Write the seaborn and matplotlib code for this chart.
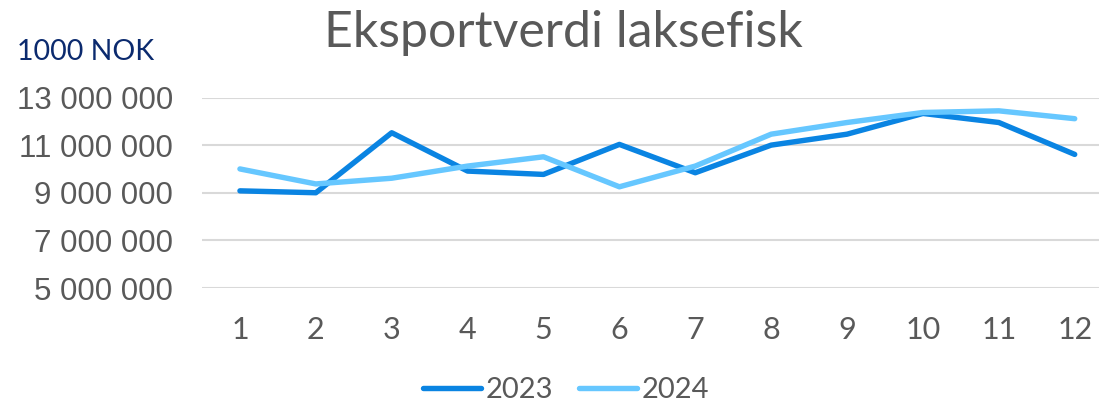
import pandas as pd
import matplotlib.pyplot as plt
import seaborn as sns

months = list(range(1, 13))
verdi_2023 = [9.08, 9.00, 11.52, 9.91, 9.77, 11.03, 9.84, 11.00, 11.46, 12.33, 11.95, 10.61]
verdi_2024 = [10.00, 9.37, 9.61, 10.12, 10.51, 9.25, 10.12, 11.46, 11.95, 12.37, 12.44, 12.11]
years = ['2023', '2024']
colors = ['#0A84E2', '#66C7FF']
yticks = [5_000_000, 7_000_000, 9_000_000, 11_000_000, 13_000_000]

df = pd.DataFrame({
    'month': months * 2,
    'value': [v * 1_000_000 for v in verdi_2023 + verdi_2024],
    'year': [years[0]] * 12 + [years[1]] * 12,
})

sns.set_style('white')
plt.rcParams['font.family'] = ['Lato', 'DejaVu Sans']

fig = plt.figure(figsize=(10.99, 4.05), dpi=100)
ax = fig.add_axes([202 / 1099, 1 - 288 / 405, 897 / 1099, (288 - 97.5) / 405])

sns.lineplot(data=df, x='month', y='value', hue='year', palette=colors,
             linewidth=3.9, ax=ax, legend=False, solid_capstyle='round')

ax.set_xlim(0.5, 12.32)
ax.set_ylim(5_000_000, 13_000_000)
ax.set_yticks(yticks)
ax.set_yticklabels([f'{t:,}'.replace(',', ' ') for t in yticks],
                   fontsize=22.5, color='#595959', family='Liberation Sans')
ax.set_xticks(months)
ax.set_xticklabels([str(m) for m in months], fontsize=22, color='#595959')
ax.tick_params(axis='y', pad=21, length=0)
ax.tick_params(axis='x', pad=20, length=0)
ax.grid(axis='y', color='#D9D9D9', linewidth=1.5)
ax.set_axisbelow(True)
for s in ax.spines.values():
    s.set_visible(False)
ax.set_xlabel('')
ax.set_ylabel('')

fig.text(563 / 1099, 1 - 33 / 405, 'Eksportverdi laksefisk', ha='center', va='center',
         fontsize=36, color='#595959')
fig.text(17 / 1099, 1 - 52 / 405, '1000 NOK', ha='left', va='center',
         fontsize=20.5, color='#0B2A6E')

handles = [plt.Line2D([0], [0], color=c, linewidth=3.9, solid_capstyle='round') for c in colors]
fig.legend(handles, years, loc='center', bbox_to_anchor=(566 / 1099, 1 - 390 / 405),
           ncol=2, frameon=False, handlelength=2.0, handletextpad=0.15,
           columnspacing=0.9, labelcolor='#595959', prop={'size': 21})

fig.savefig('out.png', dpi=100)
